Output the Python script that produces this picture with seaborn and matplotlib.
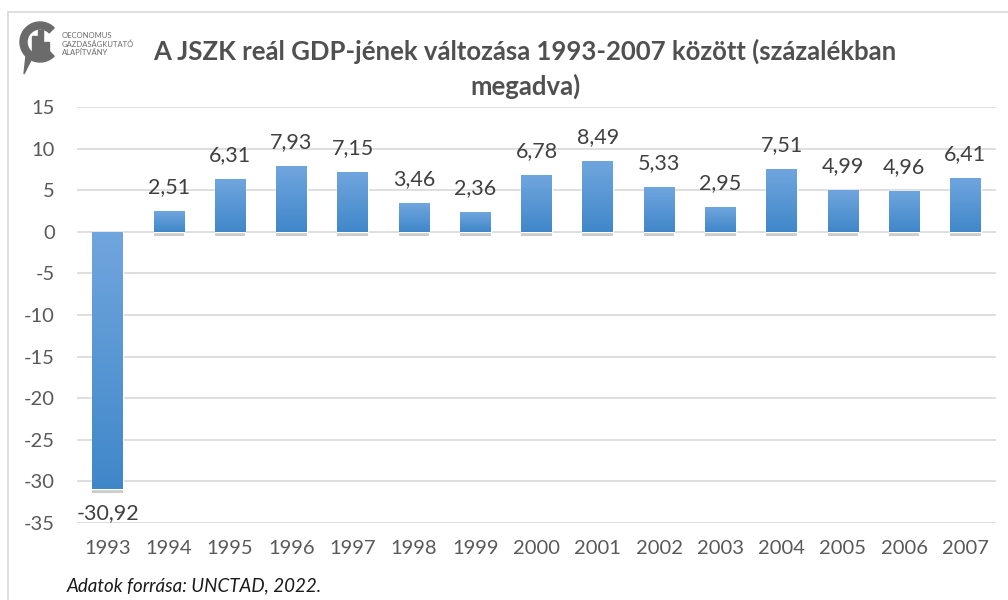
###############################################################################
###  Real GDP change bar chart (1993-2007)                                   ###
###############################################################################

import matplotlib.pyplot as plt
import matplotlib.patches as mpatches
import matplotlib.patheffects as pe
import seaborn as sns
import numpy as np
import pandas as pd

#------------------------------------------------------------------------------
### Data

years = ['1993', '1994', '1995', '1996', '1997', '1998', '1999', '2000',
	'2001', '2002', '2003', '2004', '2005', '2006', '2007']
gdp_change = [-30.92, 2.51, 6.31, 7.93, 7.15, 3.46, 2.36, 6.78,
	8.49, 5.33, 2.95, 7.51, 4.99, 4.96, 6.41]
y_ticks = [15, 10, 5, 0, -5, -10, -15, -20, -25, -30, -35]

TITLE = 'A JSZK reál GDP-jének változása 1993-2007 között (százalékban\nmegadva)'
SOURCE = 'Adatok forrása: UNCTAD, 2022.'

#------------------------------------------------------------------------------
### Style

TEXT_COLOR = '#595959'
LABEL_COLOR = '#404040'
GRID_COLOR = '#d9d9d9'
BAR_TOP = np.array([0.44, 0.65, 0.87])
BAR_BOTTOM = np.array([0.25, 0.53, 0.79])

sns.set_theme(style='white')
plt.rcParams['font.family'] = ['Lato', 'DejaVu Sans']
plt.rcParams['axes.unicode_minus'] = False

df = pd.DataFrame({'year': years, 'value': gdp_change})

fig = plt.figure(figsize=(10.08, 6.0), dpi=100)
ax = fig.add_axes([77/1008, 1-523/600, (996-77)/1008, (523-107)/600])

sns.barplot(data=df, x='year', y='value', color='#5b9bd5', width=0.5,
	ax=ax, saturation=1)

ax.set_yticks(y_ticks)
ax.yaxis.grid(True, color=GRID_COLOR, linewidth=1.2)
ax.set_axisbelow(True)
for s in ax.spines.values():
	s.set_visible(False)
ax.set_xlabel('')
ax.set_ylabel('')
ax.tick_params(axis='x', length=0, pad=12, labelsize=14.5, labelcolor=TEXT_COLOR)
ax.tick_params(axis='y', length=0, pad=16, labelsize=14.5, labelcolor=TEXT_COLOR)

# Gradient fill and soft shadow under each bar
gradient = np.linspace(0, 1, 256).reshape(-1, 1)
grad_img = BAR_TOP[None, None, :] * (1 - gradient[:, :, None]) + \
	BAR_BOTTOM[None, None, :] * gradient[:, :, None]
for bar in ax.patches:
	x0 = bar.get_x()
	w = bar.get_width()
	y0 = bar.get_y()
	h = bar.get_height()
	bar.set_path_effects([pe.SimplePatchShadow(offset=(0, -3), alpha=0.3,
		shadow_rgbFace='#595959'), pe.Normal()])
	lo, hi = min(y0, y0 + h), max(y0, y0 + h)
	img = ax.imshow(grad_img, extent=[x0, x0 + w, lo, hi], aspect='auto',
		zorder=bar.get_zorder() + 0.1, origin='upper')
	img.set_clip_path(bar)

ax.set_xlim(-0.5, len(years) - 0.5)
ax.set_ylim(-35, 15)

# Data labels with comma decimal separator
for i, v in enumerate(gdp_change):
	label = f'{v:.2f}'.replace('.', ',')
	if v >= 0:
		ax.annotate(label, (i, v), xytext=(0, 10), textcoords='offset points',
			ha='center', va='bottom', fontsize=15.5, color=LABEL_COLOR)
	else:
		ax.annotate(label, (i, v), xytext=(0, -10), textcoords='offset points',
			ha='center', va='top', fontsize=15.5, color=LABEL_COLOR)

# Title and source
fig.text(525/1008, 1-69/600, TITLE, ha='center', va='center', fontsize=18.5,
	fontweight='bold', color='#505050', linespacing=1.45)
fig.text(67/1008, 1-586/600, SOURCE, ha='left', va='center', fontsize=13.5,
	style='italic', color='#1a1a1a')

# Frame lines (left and top)
fig.add_artist(plt.Line2D([8/1008, 8/1008], [0, 1-12/600], color='#d9d9d9',
	linewidth=1.2, transform=fig.transFigure))
fig.add_artist(plt.Line2D([8/1008, 1], [1-12/600, 1-12/600], color='#d9d9d9',
	linewidth=1.2, transform=fig.transFigure))

# Logo
lax = fig.add_axes([18/1008, 1-76/600, 42/1008, 56/600])
lax.set_xlim(0, 42)
lax.set_ylim(0, 56)
lax.axis('off')
lax.add_patch(mpatches.Wedge((22, 34), 20, 45, 315, width=7, color='#6b6b6b'))
lax.add_patch(mpatches.Polygon([[8, 20], [13, 16], [6, 2]], color='#6b6b6b'))
for bx, bh in [(14, 20), (20, 26), (26, 14)]:
	lax.add_patch(mpatches.Rectangle((bx, 20), 4.5, bh, color='#6b6b6b'))
fig.text(62/1008, 1-44/600, 'OECONOMUS\nGAZDASÁGKUTATÓ\nALAPÍTVÁNY',
	ha='left', va='center', fontsize=5.5, color='#6b6b6b', linespacing=1.15)

plt.savefig('out.png', dpi=100)
plt.close()
